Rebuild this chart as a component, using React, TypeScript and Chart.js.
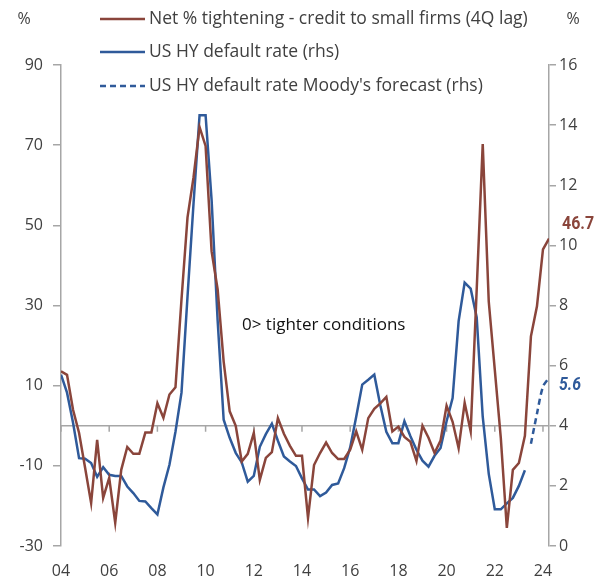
import React, { useEffect, useRef } from 'react';
import { Chart, registerables } from 'chart.js';

Chart.register(...registerables);

// Quarterly data, first point = 2004 Q1
const startYear = 2004;
const quarterStep = 0.25;

const tighteningLabel = 'Net % tightening - credit to small firms (4Q lag)';
const defaultLabel = 'US HY default rate (rhs)';
const forecastLabel = "US HY default rate Moody's forecast (rhs)";

// Net % tightening (left axis), 2004Q1 .. 2024Q2
const tighteningNet = [
  13.6, 12.7, 4, -1.8, -10.5, -19.3, -3.5, -18, -13, -24.2,
  -11, -5.3, -7, -7, -1.7, -1.7, 5.6, 2, 7.8, 9.6,
  31.5, 52, 62, 74.5, 69.8, 43.5, 34, 16, 3.6, 0,
  -8.9, -7, -1.8, -13.5, -8, -6.6, 1.9, -2, -5, -7.5,
  -7.5, -23, -9.8, -6.8, -4.2, -6.8, -8.3, -8.3, -6, -1.4,
  -6, 1.9, 4.2, 5.6, 7.2, -1.4, -0.2, -2.8, -4, -8.8,
  0, -3, -6.8, -3.7, 5, 1, -5.6, 5.7, -1.4, 34,
  70.25, 31, 14, -3, -25.5, -11, -9.3, -2.5, 22.3, 29.8,
  44, 46.7,
];

// US HY default rate (right axis), 2004Q1 .. 2023Q2
const defaultRate = [
  5.7, 5.1, 4.1, 2.92, 2.9, 2.76, 2.3, 2.62, 2.37, 2.33,
  2.33, 1.98, 1.76, 1.5, 1.48, 1.26, 1.05, 1.95, 2.7, 3.8,
  5.1, 8.3, 11.4, 14.33, 14.33, 11.5, 7.5, 4.2, 3.6, 3.1,
  2.78, 2.14, 2.33, 3.3, 3.72, 4.07, 3.5, 2.98, 2.81, 2.66,
  2.25, 1.88, 1.88, 1.66, 1.78, 2.03, 2.08, 2.59, 3.28, 4.3,
  5.37, 5.53, 5.7, 4.68, 3.8, 3.42, 3.42, 4.15, 3.65, 3.2,
  2.84, 2.64, 3.0, 3.26, 4.15, 4.92, 7.48, 8.76, 8.56, 7.6,
  4.3, 2.4, 1.22, 1.22, 1.42, 1.6, 2.0, 2.52,
];

// Moody's forecast (right axis), starting 2023Q3
const forecastStartIndex = 78;
const forecastRate = [3.4, 4.4, 5.3, 5.6];

const xTickYears = [2004, 2006, 2008, 2010, 2012, 2014, 2016, 2018, 2020, 2022, 2024];
const leftTicks = { min: -30, max: 90, step: 20 };
const rightTicks = { min: 0, max: 16, step: 2 };
const annotationText = '0> tighter conditions';

const BROWN = '#8a453b';
const BLUE = '#2f5a9a';
const AXIS = '#a6a6a6';
const TEXT = '#404040';
const FONT = "'Open Sans', 'Noto Sans', sans-serif";

const toPoints = (arr: number[], offset = 0) =>
  arr.map((v, i) => ({ x: startYear + (i + offset) * quarterStep, y: v }));

// draw a bold label squeezed horizontally to imitate a condensed face
function condensedText(ctx: any, text: string, x: number, y: number, font: string, squeeze: number) {
  ctx.save();
  ctx.font = font;
  ctx.translate(x, y);
  ctx.scale(squeeze, 1);
  ctx.fillText(text, 0, 0);
  ctx.restore();
}

const overlayPlugin = {
  id: 'overlay',
  beforeDatasetsDraw(chart: any) {
    const { ctx, chartArea, scales } = chart;
    const y0 = scales.y.getPixelForValue(0);
    ctx.save();
    ctx.strokeStyle = AXIS;
    ctx.lineWidth = 1.5;
    ctx.beginPath();
    ctx.moveTo(chartArea.left, y0);
    ctx.lineTo(chartArea.right, y0);
    for (const t of scales.x.ticks) {
      const px = scales.x.getPixelForValue(t.value);
      ctx.moveTo(px, y0);
      ctx.lineTo(px, y0 + 6);
    }
    ctx.stroke();
    ctx.restore();
  },
  afterDraw(chart: any) {
    const { ctx, scales } = chart;
    const ds = chart.data.datasets;
    ctx.save();
    // axis unit titles
    ctx.fillStyle = TEXT;
    ctx.font = `16px ${FONT}`;
    ctx.textAlign = 'center';
    ctx.textBaseline = 'middle';
    ctx.fillText('%', 24, 19);
    ctx.fillText('%', 573, 19);

    // legend
    const rows = [19, 52, 86];
    ds.forEach((d: any, i: number) => {
      const y = rows[i];
      ctx.beginPath();
      ctx.strokeStyle = d.borderColor;
      ctx.lineWidth = 2.5;
      ctx.setLineDash(d.borderDash || []);
      ctx.moveTo(100, y);
      ctx.lineTo(145, y);
      ctx.stroke();
      ctx.setLineDash([]);
      ctx.fillStyle = TEXT;
      ctx.font = `17.5px ${FONT}`;
      ctx.textAlign = 'left';
      ctx.textBaseline = 'middle';
      ctx.fillText(d.label, 149, y);
    });

    // annotation
    ctx.fillStyle = '#111';
    ctx.font = `17px ${FONT}`;
    ctx.textAlign = 'left';
    ctx.textBaseline = 'middle';
    ctx.fillText(annotationText, 242, 325);

    // end-value labels
    const lastT = tighteningNet[tighteningNet.length - 1];
    const tx = scales.x.getPixelForValue(startYear + (tighteningNet.length - 1) * quarterStep);
    const ty = scales.y.getPixelForValue(lastT);
    ctx.fillStyle = BROWN;
    condensedText(ctx, lastT.toFixed(1), tx + 13, ty - 14, "bold 19px Roboto, 'DejaVu Sans', sans-serif", 0.84);

    const lastF = forecastRate[forecastRate.length - 1];
    const fx = scales.x.getPixelForValue(startYear + (forecastStartIndex + forecastRate.length - 1) * quarterStep);
    const fy = scales.y1.getPixelForValue(lastF);
    ctx.fillStyle = BLUE;
    condensedText(ctx, lastF.toFixed(1), fx + 10, fy + 8, "italic bold 18px Roboto, 'DejaVu Sans', sans-serif", 0.88);
    ctx.restore();
  },
};

export default function App() {
  const ref = useRef<HTMLCanvasElement | null>(null);

  useEffect(() => {
    if (!ref.current) return;
    const chart = new Chart(ref.current, {
      type: 'line',
      data: {
        datasets: [
          {
            label: tighteningLabel,
            data: toPoints(tighteningNet),
            borderColor: BROWN,
            borderWidth: 2.5,
            pointRadius: 0,
            tension: 0,
            yAxisID: 'y',
          },
          {
            label: defaultLabel,
            data: toPoints(defaultRate),
            borderColor: BLUE,
            borderWidth: 2.5,
            pointRadius: 0,
            tension: 0,
            yAxisID: 'y1',
          },
          {
            label: forecastLabel,
            data: toPoints(forecastRate, forecastStartIndex),
            borderColor: BLUE,
            borderWidth: 2.5,
            borderDash: [6, 4],
            pointRadius: 0,
            tension: 0.3,
            yAxisID: 'y1',
          },
        ],
      },
      options: {
        responsive: false,
        animation: false,
        devicePixelRatio: 1,
        layout: { padding: { top: 65, left: 0, right: 0, bottom: 0 } },
        plugins: { legend: { display: false }, tooltip: { enabled: false } },
        scales: {
          x: {
            type: 'linear',
            min: startYear,
            max: startYear + (tighteningNet.length - 1) * quarterStep,
            afterBuildTicks: (s: any) => {
              s.ticks = xTickYears.map((v) => ({ value: v }));
            },
            afterFit: (s: any) => {
              s.height = 35;
            },
            grid: { display: false, drawTicks: false },
            border: { display: false },
            ticks: {
              color: TEXT,
              font: { family: FONT, size: 16 },
              padding: 16,
              maxRotation: 0,
              autoSkip: false,
              callback: (v: any) => String(v).slice(2),
            },
          },
          y: {
            position: 'left',
            min: leftTicks.min,
            max: leftTicks.max,
            afterFit: (s: any) => {
              s.width = 61;
            },
            ticks: { stepSize: leftTicks.step, color: TEXT, font: { family: FONT, size: 16 }, padding: 10 },
            grid: { drawOnChartArea: false, color: AXIS, tickLength: 8, lineWidth: 1.5 },
            border: { color: AXIS, width: 1.5 },
          },
          y1: {
            position: 'right',
            min: rightTicks.min,
            max: rightTicks.max,
            afterFit: (s: any) => {
              s.width = 49;
            },
            ticks: { stepSize: rightTicks.step, color: TEXT, font: { family: FONT, size: 16 }, padding: 3 },
            grid: { drawOnChartArea: false, color: AXIS, tickLength: 7, lineWidth: 1.5 },
            border: { color: AXIS, width: 1.5 },
          },
        },
      },
      plugins: [overlayPlugin],
    } as any);
    return () => chart.destroy();
  }, []);

  return (
    <div style={{ position: 'fixed', left: 0, top: 0, width: 598, height: 581, background: '#fff' }}>
      <canvas ref={ref} width={598} height={581} style={{ width: 598, height: 581 }} />
    </div>
  );
}
